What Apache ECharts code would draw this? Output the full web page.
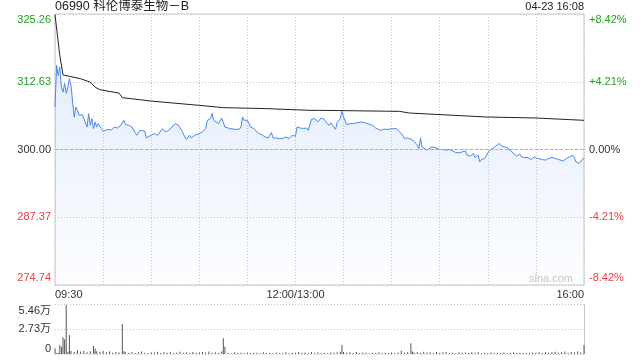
<!DOCTYPE html>
<html><head><meta charset="utf-8">
<script src="https://cdn.jsdelivr.net/npm/echarts@6/dist/echarts.min.js"></script>
<style>html,body{margin:0;padding:0;background:#fff}#c{width:640px;height:360px}</style>
</head><body><div id="c"></div>
<script>
const stockTitle = '06990 科伦博泰生物－B';
const stamp = '04-23 16:08';
const watermark = 'sina.com';
const prevClose = 300.00;
const priceMin = 274.74, priceMax = 325.26, priceStep = 12.63;
const volMax = 54600, volStep = 27300;
const timeLabelOpen = '09:30', timeLabelNoon = '12:00/13:00', timeLabelClose = '16:00';

// minute index from 09:30 (lunch break removed), price
const priceMinutes = [0,1,2,3,4,5,6,7,8,9,10,11,12,13,14,15,16,17,18,19,20,21,22,23,24,25,26,27,28,29,30,31,33,35,37,39,41,43,44,46,48,50,51,53,54,56,57,58,60,62,64,67,69,71,72,75,77,79,81,82,84,85,87,88,90,92,94,95,97,98,99,100,102,104,106,107,109,110,112,115,116,117,118,120,122,124,127,129,131,133,135,136,138,140,142,144,146,148,150,151,153,155,157,158,160,162,163,164,166,168,169,171,172,173,175,176,178,179,180,182,184,186,189,191,193,195,196,198,200,201,203,205,208,211,213,215,217,218,220,222,224,226,227,228,229,230,232,235,237,240,242,244,246,248,250,252,254,256,257,258,259,261,262,264,265,266,268,269,271,272,273,275,277,279,281,283,285,286,288,290,291,293,295,297,299,301,304,306,308,310,312,314,317,319,321,323,324,325,327,328,330];
const priceValues = [307.91,315.66,313.80,315.34,311.63,310.70,312.31,310.46,311.63,313.19,311.94,308.84,306.06,307.91,307.30,306.37,306.06,306.50,305.76,306.06,304.20,306.69,304.51,305.76,303.90,305.13,304.20,304.83,304.51,303.90,303.40,303.58,303.77,303.58,304.20,304.01,304.51,305.44,304.64,304.51,304.20,303.16,302.66,303.58,303.27,303.40,302.15,302.34,302.66,302.97,302.66,303.90,303.27,303.58,303.27,304.83,304.51,303.58,302.34,301.91,302.66,302.15,302.66,302.34,302.97,303.27,303.90,305.44,305.76,306.69,305.44,305.76,304.83,305.87,304.20,304.51,303.90,304.01,303.77,303.77,304.20,306.06,305.44,305.44,304.20,303.90,302.97,302.79,302.34,302.15,303.16,302.15,302.15,302.04,302.04,302.34,302.04,302.66,302.47,304.20,304.01,303.90,304.01,303.58,305.63,305.76,305.44,305.13,305.87,305.63,305.13,304.51,305.01,304.64,303.77,305.01,305.76,307.11,306.06,304.64,304.83,304.83,305.01,305.13,305.01,304.83,304.51,304.51,304.01,304.01,303.58,303.77,303.77,303.90,303.90,303.27,302.66,302.04,302.15,301.91,301.54,300.80,300.19,302.15,300.48,300.80,299.87,300.48,300.37,300.00,300.00,299.87,300.00,299.74,299.44,299.37,299.55,299.74,298.94,299.31,298.76,299.26,298.51,298.94,297.70,298.14,298.33,298.51,299.87,300.19,300.19,300.61,301.11,300.61,300.48,300.19,299.55,299.26,298.76,299.13,298.63,298.51,298.51,298.14,298.63,298.33,298.14,298.01,298.33,298.51,298.33,298.14,297.88,298.33,298.63,298.94,298.51,297.70,297.40,297.51,298.51];

const avgMinutes = [0,3,5,6,16,22,25,28,40,42,60,90,105,132,159,165,215,221,269,300,321,330];
const avgValues = [325.13,317.52,313.90,313.61,313.19,312.56,311.63,311.14,310.51,309.66,309.03,308.23,307.80,307.62,307.30,307.30,307.11,306.80,306.06,305.87,305.57,305.44];

const volMinutes = [0,1,2,3,4,5,6,7,8,9,10,12,14,16,18,20,22,24,25,26,28,30,32,34,36,38,40,42,43,44,46,48,50,52,54,56,58,60,62,64,66,68,70,72,74,76,78,80,82,84,86,88,90,92,94,96,98,100,102,104,105,106,108,110,112,114,116,118,120,122,124,126,128,130,132,134,136,138,140,142,144,146,148,150,152,154,156,158,160,162,164,166,168,170,172,174,176,178,179,180,182,184,186,188,190,192,194,196,198,200,202,204,206,208,210,212,214,216,218,220,222,223,224,226,228,230,232,234,236,238,240,242,244,246,248,250,252,254,256,258,260,262,264,266,268,270,272,274,276,278,280,282,284,286,288,290,292,294,296,298,300,302,304,306,308,310,312,314,316,318,320,322,324,326,328,330];
const volValues = [6200,1200,1500,9800,8000,18200,16000,53500,2500,20700,3200,2100,4100,2600,3500,1800,2900,8700,6000,3000,2400,3300,1900,2700,1500,2200,1700,32800,3100,2000,1400,2300,1200,1800,2600,1300,1100,2000,1600,2400,1200,1900,1500,2200,1000,1700,2500,1300,1800,1100,2100,1400,1900,2300,1600,2800,1500,2000,1200,2600,17100,8000,1300,900,1600,1100,1400,800,1700,1000,1300,1500,900,1800,1100,1400,700,1600,1200,1000,1900,800,1300,1500,2100,1200,1700,1000,2300,1400,1800,1100,1500,900,1600,1300,2000,2400,9800,2200,1500,1800,1200,2100,1000,1700,1300,900,1500,1100,1800,1000,1400,1200,1700,900,1300,3600,1500,2000,11700,2600,1700,2200,1400,2500,1600,1900,1100,2300,1300,1800,2100,1200,1500,1000,1900,1300,1600,1100,2000,1400,1800,900,1500,1200,1700,1000,1400,1100,1600,900,1300,1800,1200,1500,1000,1400,1100,1700,1300,1900,1000,2200,1400,1800,2500,1600,2000,2700,1500,2300,1900,2600,1700,9800];

const FONT = "'Liberation Sans', Arial, 'Noto Sans CJK SC', sans-serif";
const GREEN = '#1ea01e', RED = '#f03c3c', GREY = '#333';

const priceData = priceMinutes.map((m, i) => [m, priceValues[i]]);
const avgData = avgMinutes.map((m, i) => [m, avgValues[i]]);
const volData = volMinutes.map((m, i) => [m, volValues[i]]);

const near = (a, b) => Math.abs(a - b) < 0.001;
function priceLabel(v) {
  const t = v.toFixed(2);
  const key = v > prevClose + 0.001 ? 'g' : (v < prevClose - 0.001 ? 'r' : 'k');
  if (near(v, priceMax)) return '{t' + key + '|' + t + '}';
  if (near(v, priceMin)) return '{b' + key + '|' + t + '}';
  return '{' + key + '|' + t + '}';
}
function pctLabel(v) {
  const p = (v - prevClose) / prevClose * 100;
  let t = (p > 0.001 ? '+' : '') + p.toFixed(2) + '%';
  if (Math.abs(p) < 0.001) t = '0.00%';
  const key = v > prevClose + 0.001 ? 'g' : (v < prevClose - 0.001 ? 'r' : 'k');
  if (near(v, priceMax)) return '{t' + key + '|' + t + '}';
  if (near(v, priceMin)) return '{b' + key + '|' + t + '}';
  return '{' + key + '|' + t + '}';
}
const base = { fontSize: 11, fontFamily: FONT };
const rich = {
  g: Object.assign({ color: GREEN }, base), r: Object.assign({ color: RED }, base), k: Object.assign({ color: GREY }, base),
  tg: Object.assign({ color: GREEN, padding: [12, 0, 0, 0] }, base), tr: Object.assign({ color: RED, padding: [12, 0, 0, 0] }, base), tk: Object.assign({ color: GREY, padding: [12, 0, 0, 0] }, base),
  bg: Object.assign({ color: GREEN, padding: [0, 0, 14, 0] }, base), br: Object.assign({ color: RED, padding: [0, 0, 14, 0] }, base), bk: Object.assign({ color: GREY, padding: [0, 0, 14, 0] }, base)
};
const volRich = {
  k: Object.assign({ color: GREY }, base),
  t: Object.assign({ color: GREY, padding: [14, 0, 0, 0] }, base),
  b: Object.assign({ color: GREY, padding: [0, 0, 11, 0] }, base)
};

const dotted = { type: [1, 2], color: '#c8c8c8', width: 1 };
const noAxis = { axisLine: { show: false }, axisTick: { show: false }, splitLine: { show: false } };

const chart = echarts.init(document.getElementById('c'), null, { renderer: 'canvas' });
chart.setOption({
  animation: false,
  backgroundColor: '#fff',
  textStyle: { fontFamily: FONT },
  title: [
    { text: stockTitle, left: 55, top: 0, padding: 0, textStyle: { fontSize: 12.5, fontWeight: 'normal', color: '#222', fontFamily: FONT } },
    { text: stamp, right: 56, top: 1, padding: 0, textStyle: { fontSize: 11, fontWeight: 'normal', color: '#222', fontFamily: FONT } }
  ],
  graphic: [
    { type: 'text', right: 67, top: 273, silent: true, style: { text: watermark, fill: '#c8c8c8', font: '11px ' + FONT } }
  ],
  grid: [
    { left: 55, right: 56, top: 14, height: 271, show: true, borderColor: '#c8c8c8', borderWidth: 1, backgroundColor: 'transparent', outerBoundsMode: 'none', containLabel: false },
    { left: 55, right: 56, top: 304, height: 50, show: false, outerBoundsMode: 'none', containLabel: false }
  ],
  xAxis: [
    { type: 'value', gridIndex: 0, min: 0, max: 330, interval: 30, position: 'bottom',
      axisLine: { show: false }, axisTick: { show: false },
      splitLine: { show: true, lineStyle: dotted },
      axisLabel: { margin: 4, color: GREY, fontSize: 11, fontFamily: FONT, showMinLabel: true, showMaxLabel: true,
        formatter: v => (v === 150 ? timeLabelNoon : '') } },
    { type: 'value', gridIndex: 1, min: 0, max: 330, interval: 30, position: 'bottom',
      axisLine: { show: false }, axisTick: { show: false }, splitLine: { show: false }, axisLabel: { show: false } },
    Object.assign({ type: 'value', gridIndex: 0, min: 0, max: 330, interval: 30, position: 'bottom',
      axisLabel: { margin: 4, align: 'left', color: GREY, fontSize: 11, fontFamily: FONT, showMinLabel: true,
        formatter: v => (v === 0 ? timeLabelOpen : '') } }, noAxis),
    Object.assign({ type: 'value', gridIndex: 0, min: 0, max: 330, interval: 30, position: 'bottom',
      axisLabel: { margin: 4, align: 'right', color: GREY, fontSize: 11, fontFamily: FONT, showMaxLabel: true,
        formatter: v => (v === 330 ? timeLabelClose : '') } }, noAxis)
  ],
  yAxis: [
    { type: 'value', gridIndex: 0, min: priceMin, max: priceMax, interval: priceStep, position: 'left',
      axisLine: { show: false }, axisTick: { show: false },
      splitLine: { show: true, lineStyle: dotted },
      axisLabel: { margin: 4, showMinLabel: true, showMaxLabel: true, formatter: priceLabel, rich: rich } },
    { type: 'value', gridIndex: 0, min: priceMin, max: priceMax, interval: priceStep, position: 'right',
      axisLine: { show: false }, axisTick: { show: false }, splitLine: { show: false },
      axisLabel: { margin: 5, showMinLabel: true, showMaxLabel: true, formatter: pctLabel, rich: rich } },
    { type: 'value', gridIndex: 1, min: 0, max: volMax, interval: volStep, position: 'left',
      axisLine: { show: false }, axisTick: { show: false },
      splitLine: { show: true, lineStyle: dotted },
      axisLabel: { margin: 4, showMinLabel: true, showMaxLabel: true,
        formatter: v => (v === 0 ? '{b|0}' : (v >= volMax - 1 ? '{t|' : '{k|') + (v / 10000).toFixed(2) + '万}'), rich: volRich } },
    { type: 'value', gridIndex: 1, min: 0, max: volMax, interval: volStep, position: 'right',
      axisLine: { show: true, lineStyle: { color: '#c8c8c8' } }, axisTick: { show: false }, splitLine: { show: false }, axisLabel: { show: false } }
  ],
  series: [
    { type: 'line', name: 'price', xAxisIndex: 0, yAxisIndex: 0, data: priceData, showSymbol: false, symbol: 'none',
      lineStyle: { color: '#4a88ec', width: 1 },
      areaStyle: { origin: 'start', color: new echarts.graphic.LinearGradient(0, 0, 0, 1, [
        { offset: 0, color: 'rgba(70,130,230,0.2)' }, { offset: 1, color: 'rgba(70,130,230,0.02)' }]) },
      markLine: { silent: true, symbol: 'none', label: { show: false },
        lineStyle: { type: [3, 2], color: '#b0b0b0', width: 1 }, data: [{ yAxis: prevClose }] },
      z: 3 },
    { type: 'line', name: 'avg', xAxisIndex: 0, yAxisIndex: 0, data: avgData, showSymbol: false, symbol: 'none',
      lineStyle: { color: '#222', width: 1 }, z: 4 },
    { type: 'bar', name: 'vol', xAxisIndex: 1, yAxisIndex: 2, data: volData, barWidth: 1,
      itemStyle: { color: '#555' } }
  ]
});
</script>
</body></html>
